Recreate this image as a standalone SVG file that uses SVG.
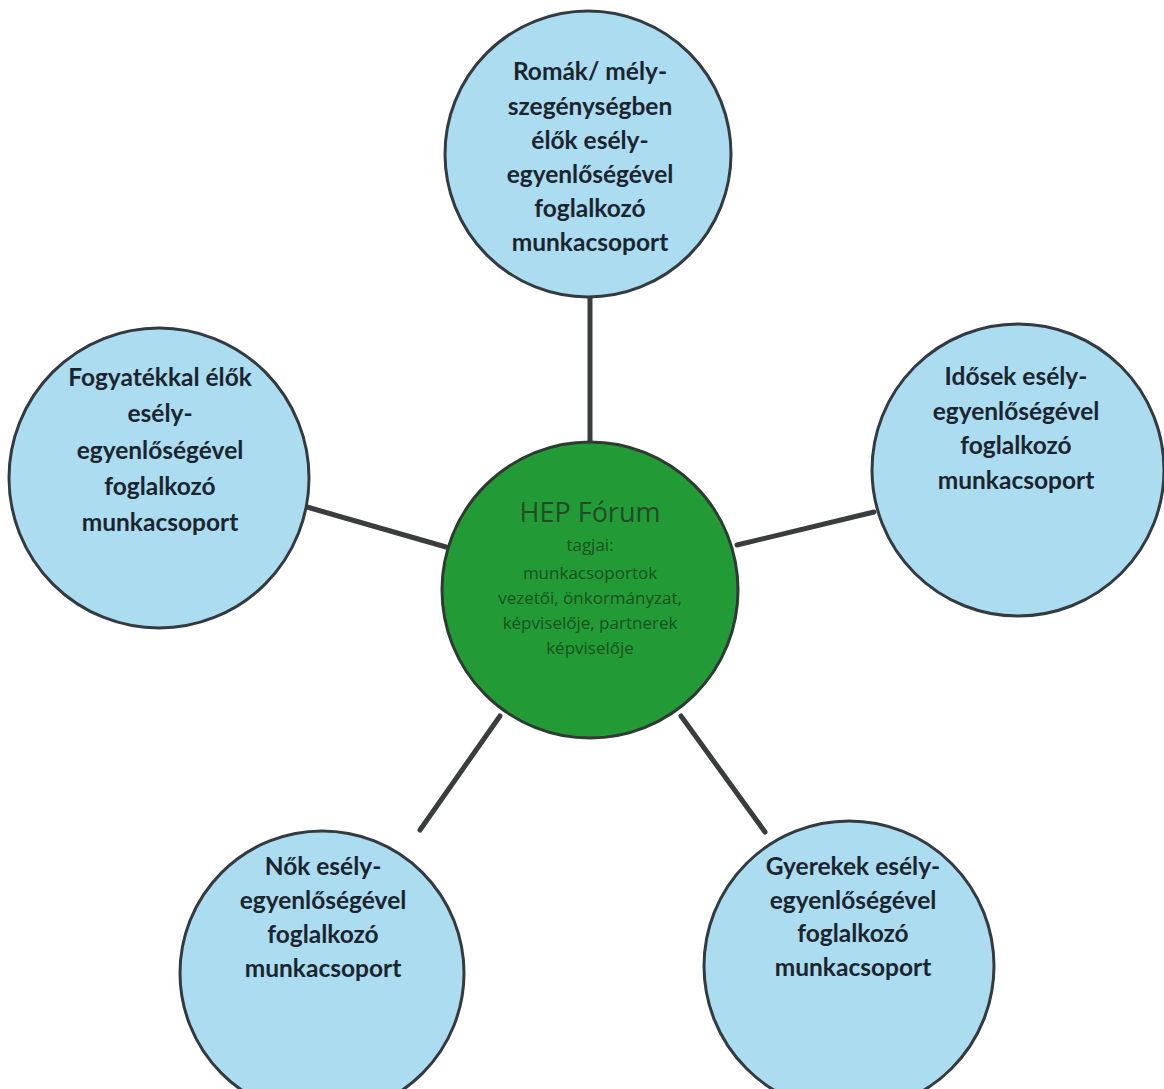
<svg xmlns="http://www.w3.org/2000/svg" width="1164" height="1089" viewBox="0 0 1164 1089">
<style>
.node{fill:#acdcef;stroke:#333a40;stroke-width:3}
.center{fill:#229b36;stroke:#2f3a32;stroke-width:3}
.lbl{font-family:Lato,"Open Sans",sans-serif;font-weight:bold;font-size:24.5px;fill:#1b2530;text-anchor:middle}
.clbl{font-family:"Open Sans",Lato,sans-serif;fill:#1b5020;text-anchor:middle;font-size:17px}
.ctitle{font-family:"Open Sans",Lato,sans-serif;fill:#244a28;text-anchor:middle;font-size:27px}
.conn{stroke:#3a3c3e;stroke-width:5;stroke-linecap:round}
</style>
<rect width="1164" height="1089" fill="#ffffff"/>
<g id="connectors">
<line class="conn" x1="590" y1="296" x2="590" y2="442"/>
<line class="conn" x1="307" y1="507" x2="446" y2="547"/>
<line class="conn" x1="737" y1="545" x2="874" y2="512"/>
<line class="conn" x1="420" y1="830" x2="500" y2="716"/>
<line class="conn" x1="681" y1="716" x2="765" y2="832"/>
</g>
<g id="node-top">
<circle class="node" cx="588" cy="154" r="143"/>
<text class="lbl" x="590" y="80">Romák/ mély-</text>
<text class="lbl" x="590" y="115">szegénységben</text>
<text class="lbl" x="590" y="149">élők esély-</text>
<text class="lbl" x="590" y="183">egyenlőségével</text>
<text class="lbl" x="590" y="217">foglalkozó</text>
<text class="lbl" x="590" y="251">munkacsoport</text>
</g>
<g id="node-left">
<circle class="node" cx="159" cy="478" r="150"/>
<text class="lbl" x="160" y="386">Fogyatékkal élők</text>
<text class="lbl" x="160" y="422">esély-</text>
<text class="lbl" x="160" y="459">egyenlőségével</text>
<text class="lbl" x="160" y="495">foglalkozó</text>
<text class="lbl" x="160" y="531">munkacsoport</text>
</g>
<g id="node-right">
<circle class="node" cx="1018" cy="470" r="146"/>
<text class="lbl" x="1016" y="385">Idősek esély-</text>
<text class="lbl" x="1016" y="420">egyenlőségével</text>
<text class="lbl" x="1016" y="454">foglalkozó</text>
<text class="lbl" x="1016" y="489">munkacsoport</text>
</g>
<g id="node-bottom-left">
<circle class="node" cx="322" cy="973" r="142"/>
<text class="lbl" x="323" y="875">Nők esély-</text>
<text class="lbl" x="323" y="909">egyenlőségével</text>
<text class="lbl" x="323" y="943">foglalkozó</text>
<text class="lbl" x="323" y="977">munkacsoport</text>
</g>
<g id="node-bottom-right">
<circle class="node" cx="849" cy="966" r="145"/>
<text class="lbl" x="853" y="875">Gyerekek esély-</text>
<text class="lbl" x="853" y="909">egyenlőségével</text>
<text class="lbl" x="853" y="942">foglalkozó</text>
<text class="lbl" x="853" y="976">munkacsoport</text>
</g>
<g id="node-center">
<circle class="center" cx="590" cy="590" r="148"/>
<text class="ctitle" x="590" y="522">HEP Fórum</text>
<text class="clbl" x="590" y="551">tagjai:</text>
<text class="clbl" x="590" y="579">munkacsoportok</text>
<text class="clbl" x="590" y="604">vezetői, önkormányzat,</text>
<text class="clbl" x="590" y="629">képviselője, partnerek</text>
<text class="clbl" x="590" y="654">képviselője</text>
</g>
</svg>
